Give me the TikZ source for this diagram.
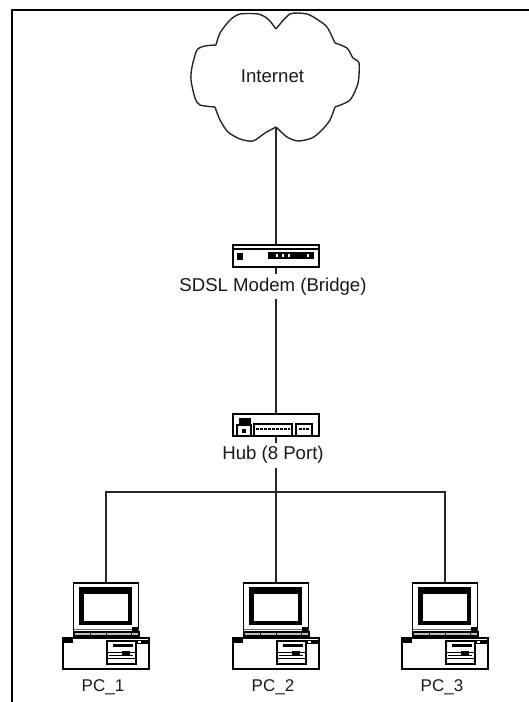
\documentclass[tikz,border=0pt]{standalone}
\usepackage{fontspec}
\setmainfont{Liberation Sans}
\usetikzlibrary{backgrounds}
\tikzset{
  x=1pt,y=-1pt,
  icon/.style={draw=black,line width=1.3pt,fill=white,inner sep=0pt,outer sep=0pt,rectangle},
  link/.style={draw=black!85,line width=1.4pt},
  lbl/.style={fill=white,inner sep=0pt,minimum height=25pt,font=\fontsize{18.6pt}{20pt}\selectfont,text=black!90},
  cloudline/.style={draw=black!85,line width=1.4pt,line join=round,smooth,tension=0.45}
}
\begin{document}
\begin{tikzpicture}
\useasboundingbox (0,0) rectangle (529,702);
% page frame
\draw[black,line width=2.2pt] (12,702) -- (12,10) -- (529,10);
% cloud
\draw[cloudline] plot coordinates {
 (276,29) (268,19) (258,14) (240,14) (230,20) (220,33) (216,45)} ;
\draw[cloudline] plot coordinates {
 (216,45) (205,46) (197,50) (192,67) (191,80) (195,98) (200,105) (215,107)};
\draw[cloudline] plot coordinates {
 (215,107) (220,120) (228,132) (240,139) (253,141) (265,133) (276,127)};
\draw[cloudline] plot coordinates {
 (276,127) (287,137) (298,141) (312,138) (322,130) (330,120) (335,107)};
\draw[cloudline] plot coordinates {
 (335,107) (350,100) (358,83) (359,63) (353,58) (347,48) (335,43)};
\draw[cloudline] plot coordinates {
 (335,43) (327,27) (318,20) (307,14) (290,14) (276,29)};
\coordinate (cloudbottom) at (276,127);
\node[font=\fontsize{18.6pt}{20pt}\selectfont,text=black!90,inner sep=0pt] (internet) at (272.5,76) {Internet};
% modem
\node[icon,minimum width=86pt,minimum height=22pt] (modem) at (276,256) {};
\draw[line width=1.1pt] (233,249) -- (319,249);
\fill (237,253) rectangle (243,260);
\fill (268,252) rectangle (314,259);
\foreach \d in {277,283,289,308}{\fill[white] (\d-0.8,254) rectangle (\d+0.8,257);}
\node[lbl] (modemlabel) at (273,286.5) {SDSL Modem (Bridge)};
% hub
\node[icon,minimum width=86pt,minimum height=22pt] (hub) at (276,425) {};
\fill (239,418) rectangle (251,425);
\draw[line width=1.1pt] (237,436) -- (237,425) -- (251,425) -- (251,436);
\draw[line width=1.1pt] (254,436) -- (254,424) -- (292,424) -- (292,436);
\draw[line width=1.1pt] (296,436) -- (296,424) -- (312,424) -- (312,436);
\fill (242,429) rectangle (246,433);
\foreach \d in {257.5,261.5,265.5,269.5,273.5,277.5,281.5,285.5,289}{\fill (\d-1.2,427.5) rectangle (\d+1.2,430);}
\foreach \d in {300.5,304,307.5}{\fill (\d-1.2,427.5) rectangle (\d+1.2,430);}
\node[lbl] (hublabel) at (273,455) {Hub (8 Port)};
% bus
\coordinate (bus) at (276,492);
% PCs
\foreach \n/\dx in {1/0,2/170,3/339}{
 \begin{scope}[xshift=\dx pt]
  \node[icon,minimum width=65pt,minimum height=52pt] (pc\n) at (106,609) {};
  \fill (79,587) rectangle (132,625);
  \fill[white] (84,594) rectangle (128,621);
  \draw[line width=.8pt,black!60] (74,629) -- (139,629);
  \draw[line width=1.2pt,fill=black!25] (74,632) rectangle (139,636);
  \fill (132,627) rectangle (138,632);
  \foreach \s in {90,106,131}{\draw[line width=1pt] (\s,632) -- (\s,639);}
  \draw[line width=1.3pt,fill=white] (63,638) rectangle (149,669);
  \fill (64,639) rectangle (73,643);
  \draw[line width=1.1pt,fill=white] (107,641) rectangle (136,664);
  \draw[line width=1pt] (107,652) -- (136,652);
  \draw[line width=1pt] (107,658) -- (136,658);
  \fill (113,643.5) rectangle (133,647);
  \draw[line width=1pt] (109,655) -- (133,655);
  \fill (122,651) rectangle (130,656);
  \fill (136,640) rectangle (148,644);
  \fill[white] (138,640.5) rectangle (141,643);
  \node[font=\fontsize{17pt}{18pt}\selectfont,text=black!90,inner sep=0pt] (pclabel\n) at (103,687) {PC\_\n};
 \end{scope}
}
% connectors (behind every node)
\begin{scope}[on background layer]
 \draw[link] (cloudbottom) -- (modem.north);
 \draw[link] (modem.south) -- (hub.north);
 \draw[link] (hub.south) -- (bus);
 \draw[link] (bus) -- (pc2.north);
 \draw[link] (bus) -| (pc1.north);
 \draw[link] (bus) -| (pc3.north);
\end{scope}
\end{tikzpicture}
\end{document}
